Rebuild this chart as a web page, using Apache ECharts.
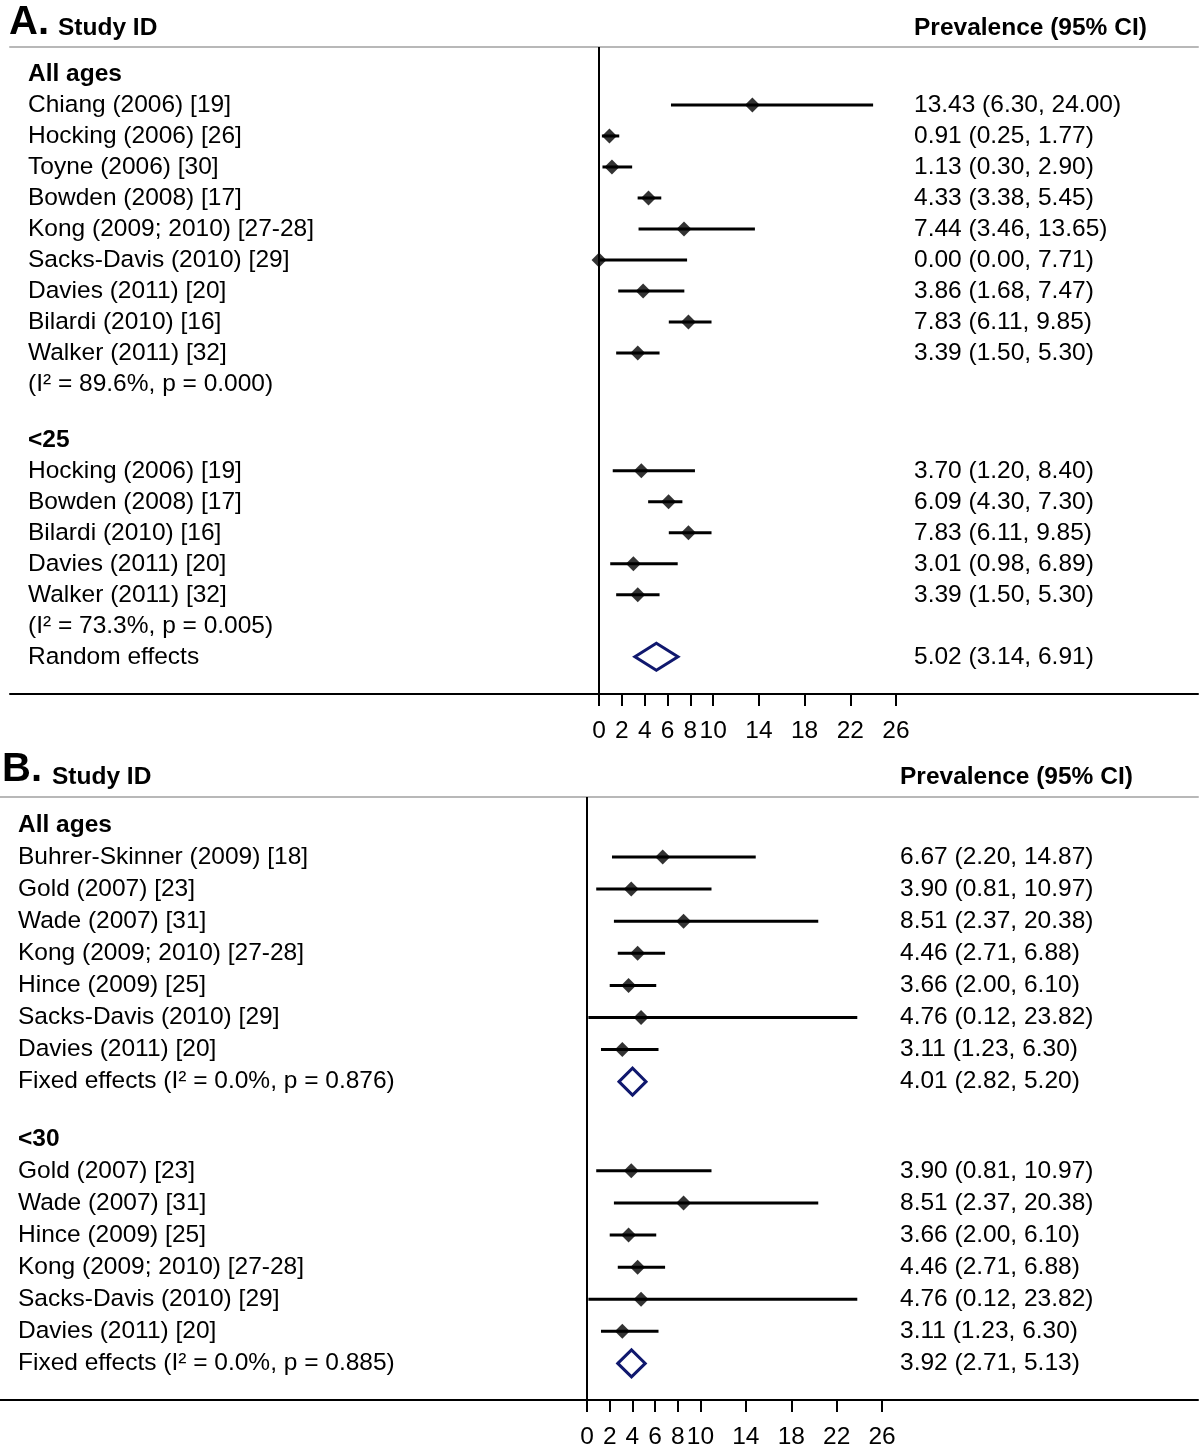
<!DOCTYPE html>
<html>
<head>
<meta charset="utf-8">
<script src="https://cdn.jsdelivr.net/npm/echarts@6/dist/echarts.min.js"></script>
<style>
  html, body { margin:0; padding:0; background:#fff; }
  #chart { width:1200px; height:1450px; }
</style>
</head>
<body>
<div id="chart"></div>
<script>
// ====== data ======

// --- panel A ---
const aLabels = [
  'All ages',
  'Chiang (2006) [19]', 'Hocking (2006) [26]', 'Toyne (2006) [30]', 'Bowden (2008) [17]',
  'Kong (2009; 2010) [27-28]', 'Sacks-Davis (2010) [29]', 'Davies (2011) [20]',
  'Bilardi (2010) [16]', 'Walker (2011) [32]',
  '(I\u00b2 = 89.6%, p = 0.000)',
  '',
  '<25',
  'Hocking (2006) [19]', 'Bowden (2008) [17]', 'Bilardi (2010) [16]',
  'Davies (2011) [20]', 'Walker (2011) [32]',
  '(I\u00b2 = 73.3%, p = 0.005)',
  'Random effects'
];
const aKind = ['head','study','study','study','study','study','study','study','study','study','note','gap',
               'head','study','study','study','study','study','note','pooled'];
const aEst = [null, 13.43, 0.91, 1.13, 4.33, 7.44, 0.00, 3.86, 7.83, 3.39, null, null,
              null, 3.70, 6.09, 7.83, 3.01, 3.39, null, 5.02];
const aLo  = [null, 6.30, 0.25, 0.30, 3.38, 3.46, 0.00, 1.68, 6.11, 1.50, null, null,
              null, 1.20, 4.30, 6.11, 0.98, 1.50, null, 3.14];
const aHi  = [null, 24.00, 1.77, 2.90, 5.45, 13.65, 7.71, 7.47, 9.85, 5.30, null, null,
              null, 8.40, 7.30, 9.85, 6.89, 5.30, null, 6.91];

// --- panel B ---
const bLabels = [
  'All ages',
  'Buhrer-Skinner (2009) [18]', 'Gold (2007) [23]', 'Wade (2007) [31]',
  'Kong (2009; 2010) [27-28]', 'Hince (2009) [25]', 'Sacks-Davis (2010) [29]',
  'Davies (2011) [20]',
  'Fixed effects (I\u00b2 = 0.0%, p = 0.876)',
  '',
  '<30',
  'Gold (2007) [23]', 'Wade (2007) [31]', 'Hince (2009) [25]',
  'Kong (2009; 2010) [27-28]', 'Sacks-Davis (2010) [29]', 'Davies (2011) [20]',
  'Fixed effects (I\u00b2 = 0.0%, p = 0.885)'
];
const bKind = ['head','study','study','study','study','study','study','study','pooled','gap',
               'head','study','study','study','study','study','study','pooled'];
const bEst = [null, 6.67, 3.90, 8.51, 4.46, 3.66, 4.76, 3.11, 4.01, null,
              null, 3.90, 8.51, 3.66, 4.46, 4.76, 3.11, 3.92];
const bLo  = [null, 2.20, 0.81, 2.37, 2.71, 2.00, 0.12, 1.23, 2.82, null,
              null, 0.81, 2.37, 2.00, 2.71, 0.12, 1.23, 2.71];
const bHi  = [null, 14.87, 10.97, 20.38, 6.88, 6.10, 23.82, 6.30, 5.20, null,
              null, 10.97, 20.38, 6.10, 6.88, 23.82, 6.30, 5.13];

// x axis ticks (same for both panels)
const xTicks = [0, 2, 4, 6, 8, 10, 14, 18, 22, 26];

// ====== layout ======
const FONT = 'Liberation Sans, Arial, Helvetica, sans-serif';
const FS = 24.5;
const NAVY = '#10186e';

const panels = [
  { labels:aLabels, kind:aKind, est:aEst, lo:aLo, hi:aHi,
    gapStep:0.8, grid:{ left:10, right:2, top:47, height:647 },
    xMin:-51.58, xMax:52.45, yMin:-0.87, yMax:20.0, textOffset:-284 },
  { labels:bLabels, kind:bKind, est:bEst, lo:bLo, hi:bHi,
    gapStep:0.78, grid:{ left:0, right:2, top:797, height:603 },
    xMin:-51.74, xMax:53.85, yMin:-0.87, yMax:17.92, textOffset:-298 }
];

// 行位置：空白列只佔一部分高度
function rowPositions(kind, gapStep){
  const out = [];
  let pos = 0;
  for(const k of kind){
    if(k === 'gap'){ out.push(null); pos += gapStep; continue; }
    out.push(pos); pos += 1;
  }
  return out;
}

function ciText(e, l, h){
  return `${e.toFixed(2)} (${l.toFixed(2)}, ${h.toFixed(2)})`;
}

function lookup(pos, texts){
  return v => {
    for(let i = 0; i < pos.length; i++){
      if(pos[i] != null && Math.abs(pos[i] - v) < 1e-6) return texts[i];
    }
    return '';
  };
}

const option = {
  backgroundColor:'#fff',
  animation:false,
  grid:[], xAxis:[], yAxis:[], series:[],
  graphic:[]
};

panels.forEach((p, gi) => {
  const pos = rowPositions(p.kind, p.gapStep);
  option.grid.push(Object.assign({}, p.grid));

  const xb = option.xAxis.length;
  option.xAxis.push({
    type:'value', gridIndex:gi, position:'bottom', min:p.xMin, max:p.xMax,
    axisLine:{ onZero:false, lineStyle:{ color:'#000', width:2 } },
    axisTick:{ customValues:xTicks, length:12, lineStyle:{ color:'#000', width:2 } },
    axisLabel:{ customValues:xTicks, margin:25, color:'#000', fontSize:FS, fontFamily:FONT },
    splitLine:{ show:false }
  });
  option.xAxis.push({
    type:'value', gridIndex:gi, position:'top', min:p.xMin, max:p.xMax,
    axisLine:{ onZero:false, lineStyle:{ color:'#b8b8b8', width:2 } },
    axisTick:{ show:false }, axisLabel:{ show:false }, splitLine:{ show:false }
  });

  // 左欄：研究名稱
  const leftPos = [], leftTxt = [];
  p.labels.forEach((t, i) => {
    if(p.kind[i] === 'gap') return;
    leftPos.push(pos[i]);
    leftTxt.push(p.kind[i] === 'head' ? `{h|${t}}` : t);
  });
  const yl = option.yAxis.length;
  option.yAxis.push({
    type:'value', gridIndex:gi, position:'left', inverse:true, min:p.yMin, max:p.yMax,
    axisLine:{ show:false, onZero:false }, axisTick:{ show:false }, splitLine:{ show:false },
    axisLabel:{
      inside:true, margin:18, customValues:leftPos, formatter:lookup(leftPos, leftTxt),
      color:'#000', fontSize:FS, fontFamily:FONT,
      rich:{ h:{ fontWeight:'bold', fontSize:FS, fontFamily:FONT, color:'#000' } }
    }
  });

  // 右欄：Prevalence (95% CI)
  const rightPos = [], rightTxt = [];
  p.est.forEach((e, i) => {
    if(e == null) return;
    rightPos.push(pos[i]);
    rightTxt.push(ciText(e, p.lo[i], p.hi[i]));
  });
  option.yAxis.push({
    type:'value', gridIndex:gi, position:'right', offset:p.textOffset, inverse:true,
    min:p.yMin, max:p.yMax,
    axisLine:{ show:false, onZero:false }, axisTick:{ show:false }, splitLine:{ show:false },
    axisLabel:{
      margin:0, customValues:rightPos, formatter:lookup(rightPos, rightTxt),
      color:'#000', fontSize:FS, fontFamily:FONT
    }
  });

  const ciData = [], ptData = [], poolData = [];
  p.kind.forEach((k, i) => {
    if(k === 'study'){
      ciData.push([p.lo[i], p.hi[i], pos[i]]);
      ptData.push([p.est[i], pos[i]]);
    } else if(k === 'pooled'){
      poolData.push([p.lo[i], p.est[i], p.hi[i], pos[i]]);
    }
  });

  // 信賴區間線
  option.series.push({
    type:'custom', xAxisIndex:xb, yAxisIndex:yl, silent:true,
    encode:{ x:[0,1], y:2 },
    data:ciData,
    renderItem:(params, api) => {
      const a = api.coord([api.value(0), api.value(2)]);
      const b = api.coord([api.value(1), api.value(2)]);
      return { type:'line', shape:{ x1:a[0], y1:a[1], x2:b[0], y2:b[1] },
               style:{ stroke:'#000', lineWidth:3 } };
    }
  });

  // 合併估計菱形
  option.series.push({
    type:'custom', xAxisIndex:xb, yAxisIndex:yl, silent:true,
    encode:{ x:[0,1,2], y:3 },
    data:poolData,
    renderItem:(params, api) => {
      const y = api.value(3);
      const l = api.coord([api.value(0), y]);
      const m = api.coord([api.value(1), y]);
      const h = api.coord([api.value(2), y]);
      const hh = 13.5;
      return { type:'polygon',
               shape:{ points:[l, [m[0], m[1]-hh], h, [m[0], m[1]+hh]] },
               style:{ stroke:NAVY, fill:'none', lineWidth:3 } };
    }
  });

  // 點估計 + 0 參考線
  option.series.push({
    type:'scatter', xAxisIndex:xb, yAxisIndex:yl, silent:true,
    symbol:'diamond', symbolSize:15,
    itemStyle:{ color:'#000' },
    data:ptData,
    markLine:{
      silent:true, symbol:['none','none'], label:{ show:false },
      lineStyle:{ color:'#000', width:2, type:'solid' },
      data:[{ xAxis:0 }]
    },
    z:3
  });
});

// 標題文字
const heads = [
  { t:'A.', x:9,   y:23,  size:40 },
  { t:'Study ID', x:58, y:28, size:FS },
  { t:'Prevalence (95% CI)', x:914, y:28, size:FS },
  { t:'B.', x:2,   y:770, size:40 },
  { t:'Study ID', x:52, y:777, size:FS },
  { t:'Prevalence (95% CI)', x:900, y:777, size:FS }
];
heads.forEach(h => {
  option.graphic.push({
    type:'text', x:h.x, y:h.y, silent:true,
    style:{ text:h.t, fill:'#000', font:`bold ${h.size}px ${FONT}`, verticalAlign:'middle', align:'left' }
  });
});

const chart = echarts.init(document.getElementById('chart'), null, { renderer:'canvas' });
chart.setOption(option);
</script>
</body>
</html>
